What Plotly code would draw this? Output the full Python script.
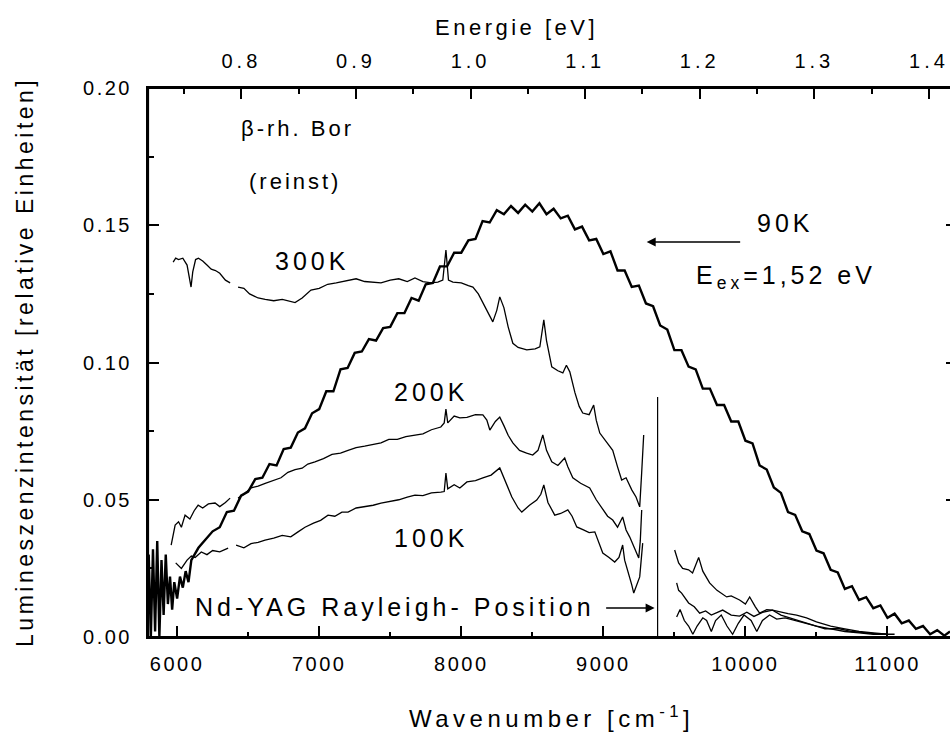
import plotly.graph_objects as go

# ---------------- data ----------------
wn_90k = [5800, 5815, 5830, 5845, 5860, 5875, 5890, 5905, 5920, 5935, 5950, 5965, 5980, 6000,
          6020, 6040, 6060, 6080, 6100, 6150, 6200, 6250, 6300, 6350, 6400, 6450, 6500, 6550,
          6600, 6650, 6700, 6750, 6800, 6850, 6900, 6950, 7000, 7050, 7100, 7150, 7200, 7250,
          7300, 7350, 7400, 7450, 7500, 7550, 7600, 7650, 7700, 7750, 7800, 7850, 7900, 7950,
          8000, 8050, 8100, 8150, 8200, 8250, 8300, 8350, 8400, 8450, 8500, 8550, 8600, 8650,
          8700, 8750, 8800, 8850, 8900, 8950, 9000, 9050, 9100, 9150, 9200, 9250, 9300, 9350,
          9400, 9450, 9500, 9550, 9600, 9650, 9700, 9750, 9800, 9850, 9900, 9950, 10000, 10050,
          10100, 10150, 10200, 10250, 10300, 10350, 10400, 10450, 10500, 10550, 10600, 10650,
          10700, 10750, 10800, 10850, 10900, 10950, 11000, 11050, 11100, 11150, 11200, 11250,
          11300, 11350, 11400, 11440]
i_90k = [0.030, 0.000, 0.032, 0.002, 0.035, 0.000, 0.028, 0.008, 0.030, 0.012, 0.022, 0.010, 0.020, 0.014,
         0.022, 0.018, 0.024, 0.020, 0.028, 0.0325, 0.0355, 0.0385, 0.040, 0.0455, 0.046, 0.0515, 0.053, 0.0575,
         0.058, 0.063, 0.0625, 0.0685, 0.069, 0.0745, 0.076, 0.0815, 0.083, 0.0895, 0.0895, 0.0975, 0.098, 0.1035,
         0.104, 0.1085, 0.108, 0.1125, 0.113, 0.118, 0.118, 0.1235, 0.1225, 0.1285, 0.129, 0.135, 0.135, 0.140,
         0.140, 0.1445, 0.145, 0.1515, 0.151, 0.1555, 0.154, 0.157, 0.1545, 0.1575, 0.155, 0.158, 0.154, 0.156,
         0.1525, 0.1535, 0.1485, 0.1495, 0.1445, 0.145, 0.1395, 0.1405, 0.1335, 0.1335, 0.1275, 0.128, 0.1215, 0.1205,
         0.1135, 0.112, 0.1045, 0.1045, 0.0985, 0.0975, 0.0905, 0.0905, 0.0845, 0.0845, 0.0785, 0.0785, 0.0715, 0.0705,
         0.0625, 0.061, 0.0545, 0.0525, 0.0455, 0.0445, 0.0385, 0.0375, 0.0315, 0.0305, 0.0245, 0.0235,
         0.0175, 0.0185, 0.0135, 0.0145, 0.0105, 0.0115, 0.0070, 0.0085, 0.0050, 0.0060, 0.0030, 0.0040,
         0.0010, 0.0025, 0.0005, 0.002]

wn_300k = [5972, 5990, 6010, 6040, 6070, 6090, 6098, 6110, 6130, 6150, 6180, 6210, 6240, 6270, 6300,
           6340, 6373, 6400, 6429, 6470, 6510, 6570, 6620, 6680, 6740, 6800, 6830, 6880, 6942, 7000,
           7060, 7120, 7203, 7260, 7320, 7380, 7435, 7500, 7560, 7620, 7674, 7730, 7790, 7835, 7870,
           7892, 7910, 7941, 8000, 8050, 8082, 8120, 8160, 8200, 8222, 8250, 8271, 8300, 8330, 8363,
           8400, 8461, 8520, 8553, 8581, 8600, 8637, 8680, 8715, 8740, 8764, 8800, 8830, 8855, 8900,
           8932, 8950, 8975, 9020, 9066, 9100, 9129, 9160, 9200, 9230, 9256, 9270, 9284, 9400,
           9502, 9530, 9558, 9600, 9628, 9650, 9671, 9700, 9748, 9800, 9868, 9900, 9959, 10000,
           10030, 10070, 10100, 10150, 10191, 10250, 10310, 10370, 10430, 10500, 10560, 10662,
           10750, 10850, 10950, 11050]
i_300k = [0.1366, 0.138, 0.1375, 0.138, 0.1355, 0.130, 0.1275, 0.133, 0.1375, 0.138, 0.137, 0.1355,
          0.134, 0.1335, 0.1325, 0.130, 0.129, None, 0.1275, 0.127, 0.125, 0.1235, 0.123, 0.1225, 0.123,
          0.1222, 0.1218, 0.1235, 0.1264, 0.127, 0.1285, 0.129, 0.130, 0.1305, 0.1295, 0.1292, 0.129,
          0.130, 0.1305, 0.1295, 0.1308, 0.1295, 0.129, 0.1293, 0.130, 0.141, 0.130, 0.1293, 0.129,
          0.128, 0.1275, 0.125, 0.121, 0.117, 0.1148, 0.119, 0.1239, 0.120, 0.113, 0.107, 0.1055,
          0.1046, 0.105, 0.1057, 0.1155, 0.108, 0.0984, 0.097, 0.0962, 0.099, 0.0966, 0.089, 0.084,
          0.0816, 0.081, 0.0845, 0.079, 0.0743, 0.071, 0.068, 0.062, 0.0572, 0.058, 0.0536, 0.051,
          0.0474, 0.060, 0.0736, None,
          0.0317, 0.027, 0.025, 0.0245, 0.0233, 0.026, 0.029, 0.024, 0.0197, 0.017, 0.0146, 0.015,
          0.0135, 0.012, 0.0146, 0.011, 0.0087, 0.010, 0.0098, 0.008, 0.007, 0.006, 0.005, 0.004,
          0.003, 0.003, 0.002, 0.0015, 0.001, 0.001]

wn_200k = [5958, 5975, 5986, 6010, 6030, 6056, 6090, 6120, 6148, 6180, 6220, 6267, 6300, 6340, 6373,
           6400, 6429, 6470, 6520, 6570, 6620, 6680, 6731, 6780, 6830, 6880, 6920, 6970, 7030, 7090,
           7150, 7203, 7260, 7320, 7380, 7435, 7490, 7550, 7610, 7674, 7730, 7790, 7856, 7880, 7892,
           7905, 7950, 7990, 8040, 8100, 8152, 8180, 8201, 8240, 8271, 8300, 8330, 8363, 8410, 8460,
           8503, 8540, 8574, 8600, 8637, 8680, 8728, 8750, 8785, 8840, 8904, 8950, 8996, 9030, 9066,
           9100, 9136, 9160, 9186, 9220, 9249, 9260, 9270, 9400,
           9516, 9530, 9551, 9600, 9640, 9678, 9720, 9760, 9840, 9900, 9959, 10010, 10060, 10120,
           10191, 10250, 10300, 10360, 10430, 10500, 10600, 10700, 10800, 10900, 11000]
i_200k = [0.0335, 0.038, 0.0408, 0.042, 0.040, 0.0444, 0.043, 0.046, 0.048, 0.047, 0.0485, 0.0488,
          0.0475, 0.049, 0.0506, None, 0.0506, 0.052, 0.0543, 0.055, 0.056, 0.057, 0.058, 0.060, 0.061,
          0.0615, 0.063, 0.0638, 0.065, 0.0665, 0.067, 0.068, 0.069, 0.0695, 0.070, 0.0707, 0.072,
          0.072, 0.073, 0.0736, 0.074, 0.0755, 0.0765, 0.078, 0.083, 0.078, 0.0805, 0.0798, 0.080,
          0.081, 0.0809, 0.079, 0.0754, 0.0785, 0.0801, 0.077, 0.0735, 0.0707, 0.068, 0.067, 0.0663,
          0.068, 0.0736, 0.068, 0.0638, 0.0625, 0.0652, 0.062, 0.058, 0.056, 0.0543, 0.050, 0.0463,
          0.044, 0.0426, 0.040, 0.0437, 0.039, 0.0364, 0.032, 0.0288, 0.035, 0.0463, None,
          0.0197, 0.017, 0.016, 0.0124, 0.011, 0.0087, 0.0095, 0.008, 0.0098, 0.008, 0.0076, 0.009,
          0.0075, 0.009, 0.0098, 0.009, 0.0085, 0.008, 0.007, 0.0055, 0.004, 0.003, 0.002, 0.0015, 0.001]

wn_100k = [5990, 6030, 6070, 6100, 6127, 6170, 6210, 6250, 6300, 6359, 6390, 6415, 6470, 6520, 6570,
           6619, 6680, 6740, 6800, 6851, 6900, 6960, 7010, 7062, 7110, 7160, 7203, 7260, 7320, 7380,
           7435, 7500, 7560, 7620, 7674, 7730, 7790, 7856, 7880, 7892, 7905, 7950, 7990, 8040, 8100,
           8152, 8210, 8271, 8300, 8330, 8356, 8400, 8426, 8480, 8531, 8560, 8581, 8610, 8658, 8700,
           8750, 8780, 8813, 8860, 8900, 8940, 8970, 8996, 9040, 9080, 9110, 9136, 9150, 9171, 9200,
           9214, 9235, 9256, 9277, 9400,
           9516, 9540, 9570, 9600, 9630, 9660, 9700, 9727, 9760, 9790, 9830, 9870, 9910, 9950, 9990,
           10040, 10080, 10120, 10170, 10220, 10280, 10350, 10420, 10500, 10600, 10700, 10800, 10900, 11000]
i_100k = [0.027, 0.025, 0.028, 0.0295, 0.029, 0.031, 0.030, 0.0315, 0.031, 0.0324, None, 0.0335,
          0.0325, 0.034, 0.0345, 0.0353, 0.036, 0.037, 0.0365, 0.0383, 0.040, 0.0415, 0.0425, 0.0444,
          0.044, 0.0455, 0.0455, 0.047, 0.0475, 0.048, 0.0488, 0.0495, 0.050, 0.051, 0.0517, 0.0515,
          0.0525, 0.0528, 0.053, 0.0597, 0.054, 0.0555, 0.0543, 0.0565, 0.057, 0.058, 0.059, 0.0616,
          0.058, 0.054, 0.051, 0.047, 0.0455, 0.048, 0.0499, 0.052, 0.0554, 0.049, 0.0444, 0.045,
          0.0463, 0.044, 0.0401, 0.039, 0.038, 0.0383, 0.034, 0.0306, 0.029, 0.0273, 0.029, 0.0335,
          0.028, 0.0244, 0.019, 0.016, 0.019, 0.0219, 0.0342, None,
          0.0073, 0.010, 0.006, 0.004, 0.001, 0.004, 0.007, 0.006, 0.002, 0.006, 0.008, 0.004, 0.001,
          0.005, 0.008, 0.006, 0.002, 0.006, 0.008, 0.0065, 0.007, 0.006, 0.005, 0.004, 0.003, 0.002,
          0.0015, 0.001, 0.001]

rayleigh_wn = [9382, 9382]
rayleigh_i = [0.0, 0.0874]

x_range = [5795, 11440]
y_range = [0.0, 0.20]
CM_PER_EV = 8065.54
x_ticks = [6000, 7000, 8000, 9000, 10000, 11000]
y_ticks = [0.0, 0.05, 0.10, 0.15, 0.20]
y_ticklabels = ["0.00", "0.05", "0.10", "0.15", "0.20"]
e_ticks = [0.8, 0.9, 1.0, 1.1, 1.2, 1.3, 1.4]
e_ticklabels = ["0.8", "0.9", "1.0", "1.1", "1.2", "1.3", "1.4"]

FONT = "Liberation Sans, Arial, sans-serif"


def sp(t, ls=4):
    return '<span style="letter-spacing:%gpx">%s</span>' % (ls, t)


fig = go.Figure()
line_thin = dict(color="black", width=1.3)
fig.add_trace(go.Scatter(x=wn_300k, y=i_300k, mode="lines", line=line_thin, connectgaps=False))
fig.add_trace(go.Scatter(x=wn_200k, y=i_200k, mode="lines", line=line_thin, connectgaps=False))
fig.add_trace(go.Scatter(x=wn_100k, y=i_100k, mode="lines", line=line_thin, connectgaps=False))
fig.add_trace(go.Scatter(x=wn_90k, y=i_90k, mode="lines", line=dict(color="black", width=2.4)))
fig.add_trace(go.Scatter(x=rayleigh_wn, y=rayleigh_i, mode="lines", line=dict(color="black", width=1.2)))
# invisible helper traces so the top (energy) axis and right tick axis are created
fig.add_trace(go.Scatter(x=[x_range[0] / CM_PER_EV], y=[0], xaxis="x2", yaxis="y", mode="markers",
                         marker=dict(opacity=0), hoverinfo="skip"))
fig.add_trace(go.Scatter(x=[x_range[0]], y=[0], xaxis="x", yaxis="y2", mode="markers",
                         marker=dict(opacity=0), hoverinfo="skip"))

axis_common = dict(showgrid=False, zeroline=False, showline=True, linecolor="black", linewidth=2,
                   ticks="inside", tickcolor="black", tickwidth=2, ticklen=11,
                   tickfont=dict(family=FONT, size=20, color="black"))

fig.update_layout(
    width=951, height=734,
    margin=dict(l=148, r=1, t=88, b=97),
    paper_bgcolor="white", plot_bgcolor="white",
    showlegend=False,
    font=dict(family=FONT, color="black"),
    xaxis=dict(range=x_range, tickvals=x_ticks, ticktext=[sp(str(v), 2.5) for v in x_ticks],
               minor=dict(ticks="inside", ticklen=5, tickwidth=2, tickcolor="black", dtick=500, tick0=5500),
               ticklabelstandoff=8, **axis_common),
    yaxis=dict(range=y_range, tickvals=y_ticks, ticktext=[sp(t, 2.5) for t in y_ticklabels],
               minor=dict(ticks="inside", ticklen=6, tickwidth=2, tickcolor="black", dtick=0.025, tick0=0),
               ticklabelstandoff=10, **axis_common),
    xaxis2=dict(overlaying="x", side="top", anchor="y",
                range=[x_range[0] / CM_PER_EV, x_range[1] / CM_PER_EV],
                tickvals=e_ticks, ticktext=[sp(t, 4) for t in e_ticklabels],
                minor=dict(ticks="inside", ticklen=6, tickwidth=2, tickcolor="black", dtick=0.05, tick0=0.75),
                showgrid=False, zeroline=False, showline=True, linecolor="black", linewidth=2,
                ticks="inside", tickcolor="black", tickwidth=2, ticklen=11, ticklabelstandoff=10,
                tickfont=dict(family=FONT, size=20, color="black")),
    yaxis2=dict(overlaying="y", side="right", anchor="x", range=y_range,
                tickvals=[0.05, 0.10, 0.15], showticklabels=False,
                showgrid=False, zeroline=False, showline=False,
                ticks="inside", tickcolor="black", tickwidth=2, ticklen=4),
)

# frame lines (bottom, left, top) of the plot area
frame = dict(type="line", xref="paper", yref="paper", layer="above", line=dict(color="black", width=2.2))
fig.add_shape(x0=0, x1=1, y0=0, y1=0, **frame)
fig.add_shape(x0=0, x1=0, y0=0, y1=1, **frame)
fig.add_shape(x0=0, x1=1, y0=1, y1=1, **frame)

ann_font = dict(family=FONT, size=25, color="black")
small_font = dict(family=FONT, size=22, color="black")
annotations = [
    dict(text=sp("Wavenumber [cm<sup>-1</sup>]", 4.5), x=0.5037, y=-0.1457, font=dict(family=FONT, size=24, color="black")),
    dict(text=sp("Energie [eV]", 3.5), x=0.46, y=1.111, font=dict(family=FONT, size=22, color="black")),
    dict(text=sp("Lumineszenzintensität [relative Einheiten]", 3.5), x=-0.1534, y=0.501, textangle=-90,
         font=dict(family=FONT, size=23, color="black")),
    dict(text=sp("β-rh. Bor", 3), x=0.1858, y=0.927, font=small_font),
    dict(text=sp("(reinst)", 3), x=0.1833, y=0.8306, font=small_font),
    dict(text=sp("300K", 4), x=0.2045, y=0.6849, font=ann_font),
    dict(text=sp("200K", 4), x=0.353, y=0.446, font=ann_font),
    dict(text=sp("100K", 4), x=0.353, y=0.180, font=ann_font),
    dict(text=sp("90K", 4), x=0.794, y=0.754, font=ann_font),
    dict(text=sp("E<sub>ex</sub>=1,52 eV", 4), x=0.795, y=0.655, font=ann_font),
    dict(text=sp("Nd-YAG Rayleigh- Position", 4), x=0.3074, y=0.0546, font=ann_font),
]
for a in annotations:
    a.update(xref="paper", yref="paper", showarrow=False, xanchor="center", yanchor="middle")
    fig.add_annotation(**a)

# arrows
fig.add_annotation(x=9305, y=0.1439, xref="x", yref="y", ax=95, ay=0, text="", showarrow=True,
                   arrowhead=2, arrowsize=1.2, arrowwidth=1.5, arrowcolor="black")
fig.add_annotation(x=9361, y=0.0106, xref="x", yref="y", ax=-50, ay=0, text="", showarrow=True,
                   arrowhead=2, arrowsize=1.2, arrowwidth=1.5, arrowcolor="black")

fig.write_html("out.html")
